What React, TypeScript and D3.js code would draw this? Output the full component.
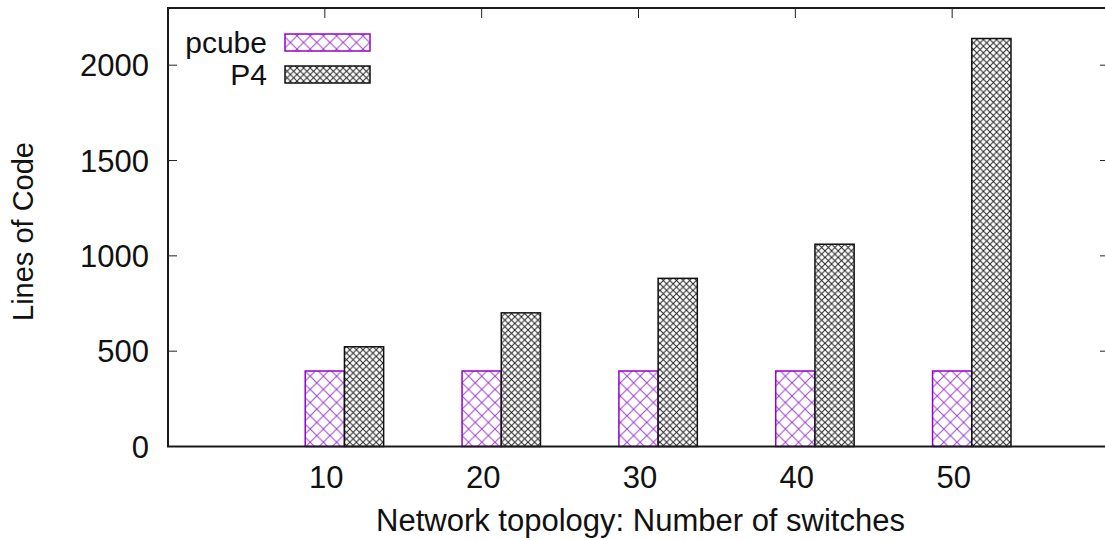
import * as d3 from "d3"

const categories = ["10", "20", "30", "40", "50"]
const pcube = [396, 396, 396, 396, 396]
const p4 = [523, 701, 882, 1061, 2140]
const yTicks = [0, 500, 1000, 1500, 2000]
const seriesNames = ["pcube", "P4"]

const W = 1105
const H = 540
const FONT = "'Liberation Sans', Arial, sans-serif"
const FS = 31

function App() {
  const x = d3.scaleLinear().domain([-1, 5]).range([168, 1109])
  const y = d3.scaleLinear().domain([0, 2300]).range([446.5, 8])
  const boxW = x(0.25) - x(0)
  const left = x(-1)
  const right = x(5)
  const top = y(2300)
  const bottom = y(0)

  // gnuplot clustered bars: first bar centred on the tick, second one just right of it
  const series = [
    { name: seriesNames[0], values: pcube, fill: "url(#hatchPurple)", stroke: "#9400d3", offset: 0 },
    { name: seriesNames[1], values: p4, fill: "url(#hatchBlack)", stroke: "#111", offset: 1 },
  ]

  return (
    <svg width={W} height={H} style={{ display: "block", position: "absolute", left: 0, top: 0 }} fontFamily={FONT}>
      <defs>
        <pattern id="hatchPurple" patternUnits="userSpaceOnUse" width={13.2} height={13.2}>
          <rect width={13.2} height={13.2} fill="#fff" />
          <path d="M0,0L13.2,13.2M0,13.2L13.2,0" stroke="#9a3fd0" strokeWidth={1} />
        </pattern>
        <pattern id="hatchBlack" patternUnits="userSpaceOnUse" width={6.6} height={6.6}>
          <rect width={6.6} height={6.6} fill="#fff" />
          <path d="M0,0L6.6,6.6M0,6.6L6.6,0" stroke="#222" strokeWidth={1} />
        </pattern>
      </defs>
      <rect width={W} height={H} fill="#fff" />

      {/* ticks */}
      {yTicks.map((t) => (
        <g key={t}>
          <line x1={left} x2={left + 9} y1={y(t)} y2={y(t)} stroke="#222" strokeWidth={1} />
          <line x1={right} x2={right - 9} y1={y(t)} y2={y(t)} stroke="#222" strokeWidth={1} />
          <text x={149} y={y(t)} dy="0.36em" textAnchor="end" fontSize={FS} fill="#111">{t}</text>
        </g>
      ))}
      {categories.map((c, i) => (
        <g key={c}>
          <line x1={x(i)} x2={x(i)} y1={top} y2={top + 10} stroke="#222" strokeWidth={1} />
          <line x1={x(i)} x2={x(i)} y1={bottom} y2={bottom - 10} stroke="#222" strokeWidth={1} />
          <text x={x(i) + 1.5} y={488} textAnchor="middle" fontSize={FS} fill="#111">{c}</text>
        </g>
      ))}

      {/* bars */}
      {series.map((s) =>
        s.values.map((v, i) => (
          <rect
            key={s.name + i}
            x={x(i + s.offset * 0.25) - boxW / 2}
            y={y(v)}
            width={boxW}
            height={bottom - y(v)}
            fill={s.fill}
            stroke={s.stroke}
            strokeWidth={1.5}
          />
        ))
      )}

      {/* border */}
      <rect x={left} y={top} width={right - left} height={bottom - top} fill="none" stroke="#1a1a1a" strokeWidth={2} />

      {/* legend */}
      {series.map((s, i) => (
        <g key={s.name} transform={`translate(0,${42.5 + i * 32})`}>
          <text x={267} y={0} dy="0.36em" textAnchor="end" fontSize={30} fill="#111">{s.name}</text>
          <rect x={285} y={-8.5} width={85} height={17} fill={s.fill} stroke={s.stroke} strokeWidth={1.5} />
        </g>
      ))}

      {/* axis titles */}
      <text x={640.5} y={531} textAnchor="middle" fontSize={FS} fill="#111">Network topology: Number of switches</text>
      <text transform={`translate(33,${231.5}) rotate(-90)`} textAnchor="middle" fontSize={29} fill="#111">Lines of Code</text>
    </svg>
  )
}

export default App
